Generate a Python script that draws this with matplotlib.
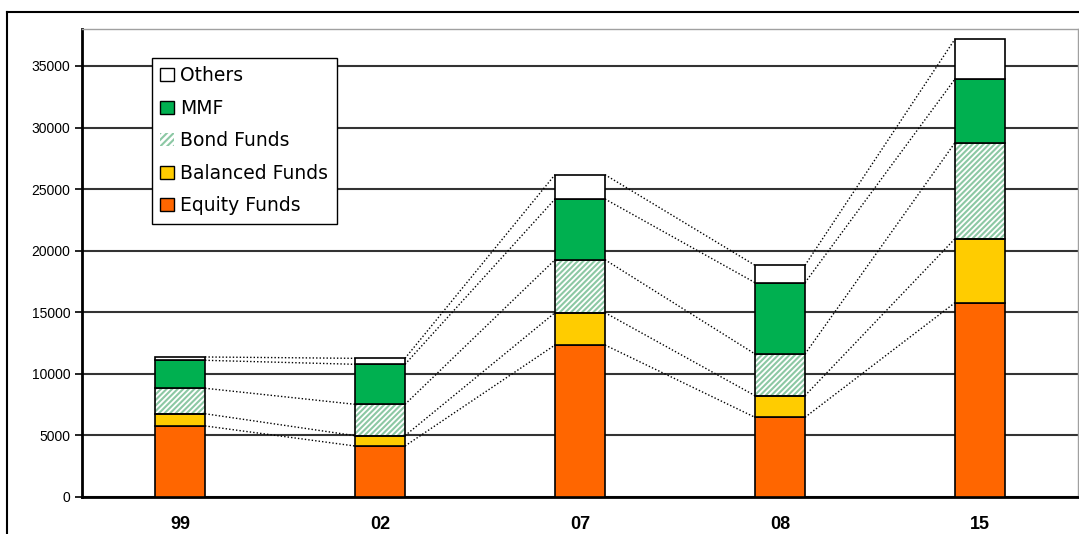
import numpy as np
import matplotlib
matplotlib.use("Agg")
import matplotlib.pyplot as plt
from matplotlib.lines import Line2D

# data
years = ['99', '02', '07', '08', '15']
equity = [5770, 4140, 12340, 6470, 15780]
balanced = [990, 840, 2625, 1760, 5195]
bond = [2070, 2545, 4300, 3385, 7795]
mmf = [2270, 3250, 4930, 5790, 5170]
others = [270, 485, 1975, 1410, 3250]

series = [equity, balanced, bond, mmf, others]
names = ['Equity Funds', 'Balanced Funds', 'Bond Funds', 'MMF', 'Others']
colors = ['#FF6600', '#FFCC00', 'white', '#00B050', 'white']

plt.rcParams['font.family'] = ['Liberation Sans', 'DejaVu Sans']
plt.rcParams['hatch.linewidth'] = 1.5

fig = plt.figure(figsize=(10.79, 5.34), dpi=100)
ax = fig.add_axes([82/1079, 1 - 497/534, 996/1079, 468/534])

# outer frame around the chart
fig.add_artist(Line2D([7/1079, 7/1079], [0, 1 - 12/534], color='black', lw=1.5))
fig.add_artist(Line2D([7/1079, 1], [1 - 12/534, 1 - 12/534], color='black', lw=1.5))

x = np.arange(len(years))
w = 0.25
bottom = np.zeros(len(years))
tops = []
for vals, name, col in zip(series, names, colors):
    vals = np.array(vals, dtype=float)
    if name == 'Bond Funds':
        ax.bar(x, vals, w, bottom=bottom, color='white', edgecolor='#8CC8A4',
               hatch='//////', linewidth=0, zorder=3)
        ax.bar(x, vals, w, bottom=bottom, facecolor='none', edgecolor='black',
               linewidth=1.2, zorder=4)
    else:
        ax.bar(x, vals, w, bottom=bottom, color=col, edgecolor='black',
               linewidth=1.2, zorder=4)
    bottom = bottom + vals
    tops.append(bottom.copy())

# dotted connectors between the segment tops
for lvl in tops:
    for i in range(len(years) - 1):
        ax.plot([x[i] + w/2, x[i+1] - w/2], [lvl[i], lvl[i+1]],
                linestyle=(0, (1, 1.5)), color='black', lw=1, zorder=2)

ax.set_xlim(-0.49, 4.49)
ax.set_ylim(0, 38000)
ax.set_yticks(np.arange(0, 35001, 5000))
ax.yaxis.grid(True, color='#333333', lw=1.5, zorder=1)
ax.set_axisbelow(True)
ax.tick_params(axis='y', labelsize=10, length=5, width=1.2, direction='out')
ax.tick_params(axis='x', length=0, pad=14)
ax.set_xticks(x)
ax.set_xticklabels(years, fontsize=13, fontweight='bold')

for s in ['left', 'bottom']:
    ax.spines[s].set_linewidth(2)
    ax.spines[s].set_color('black')
for s in ['top', 'right']:
    ax.spines[s].set_linewidth(1)
    ax.spines[s].set_color('#A0A0A0')

# legend with the stacking order reversed
leg_handles = []
for col, name in zip(colors, names):
    if name == 'Bond Funds':
        p = plt.Rectangle((0, 0), 1, 1, facecolor='white', edgecolor='#8CC8A4', hatch='/////', lw=0)
    else:
        p = plt.Rectangle((0, 0), 1, 1, facecolor=col, edgecolor='black', lw=1)
    leg_handles.append(p)
leg = ax.legend(leg_handles[::-1], names[::-1], loc='upper left',
                bbox_to_anchor=(0.0703, 0.938), borderaxespad=0, fancybox=False,
                edgecolor='black', framealpha=1, handlelength=0.7, handleheight=0.7,
                handletextpad=0.35, labelspacing=0.72,
                prop={'family': ['DejaVu Sans'], 'size': 13.5}, borderpad=0.45)
leg.get_frame().set_linewidth(1)
leg.set_zorder(10)

fig.savefig('out.png', dpi=100)
